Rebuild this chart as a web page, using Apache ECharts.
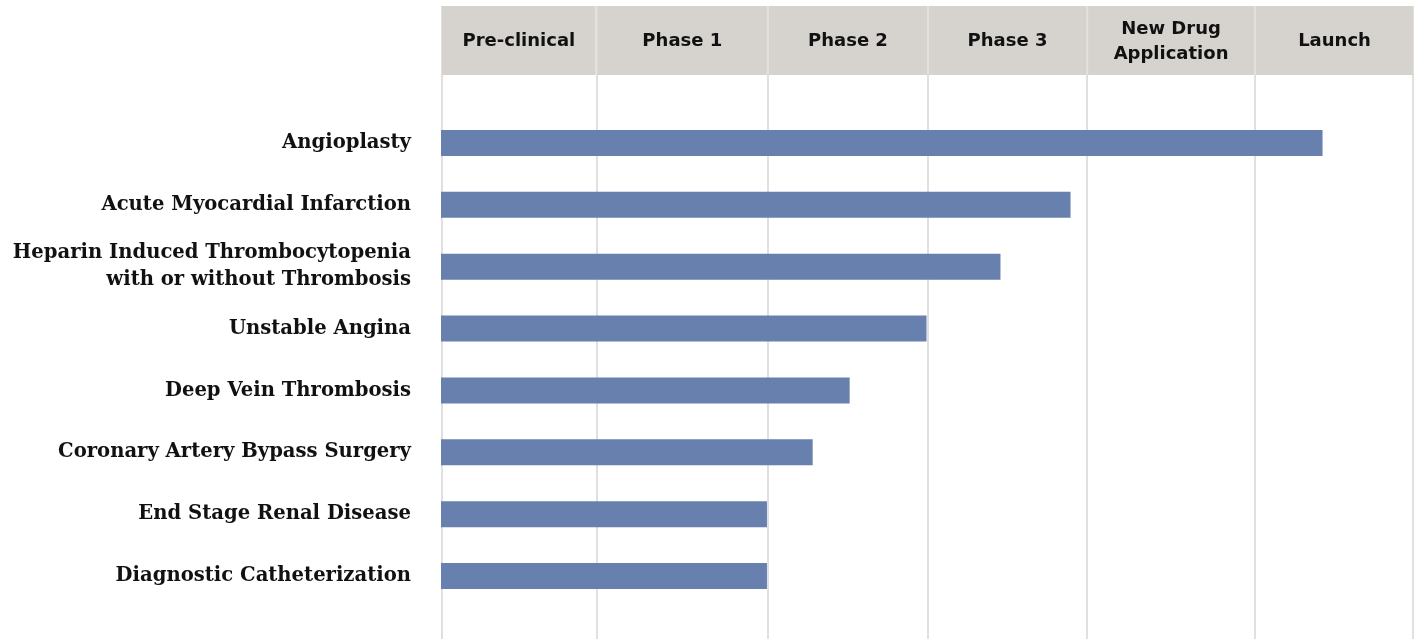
<!DOCTYPE html>
<html>
<head>
<meta charset="utf-8">
<script src="https://cdn.jsdelivr.net/npm/echarts@6/dist/echarts.min.js"></script>
<style>
  html, body { margin: 0; padding: 0; background: #fff; }
  #chart { width: 1414px; height: 639px; }
</style>
</head>
<body>
<div id="chart"></div>
<script>
// pipeline scale runs 0..100; phase columns are not equally wide
const phases = ['Pre-clinical', 'Phase 1', 'Phase 2', 'Phase 3', 'New Drug\nApplication', 'Launch'];
const phaseBounds = [0, 16.0, 33.6, 50.05, 66.4, 83.66, 100];

const categories = [
  'Angioplasty',
  'Acute Myocardial Infarction',
  'Heparin Induced Thrombocytopenia\nwith or without Thrombosis',
  'Unstable Angina',
  'Deep Vein Thrombosis',
  'Coronary Artery Bypass Surgery',
  'End Stage Renal Disease',
  'Diagnostic Catheterization'
];
const progress = [90.6, 64.7, 57.5, 49.9, 42.0, 38.2, 33.5, 33.5];

const chart = echarts.init(document.getElementById('chart'));

// header cells: [start, end, label]
const headerData = phases.map((p, i) => [phaseBounds[i], phaseBounds[i + 1], p]);

chart.setOption({
  animation: false,
  grid: [
    { left: 441, right: 0, top: 6, bottom: 0 },
    { left: 441, right: 0, top: 112, bottom: 32 }
  ],
  xAxis: [
    { gridIndex: 0, type: 'value', min: 0, max: 100, show: false },
    { gridIndex: 1, type: 'value', min: 0, max: 100, show: false }
  ],
  yAxis: [
    { gridIndex: 0, type: 'value', min: 0, max: 1, show: false, inverse: true },
    {
      gridIndex: 1, type: 'category', data: categories, inverse: true,
      axisLine: { show: false }, axisTick: { show: false },
      axisLabel: {
        margin: 30, color: '#111', fontFamily: 'DejaVu Serif',
        fontWeight: 'bold', fontSize: 19.6, lineHeight: 27, align: 'right'
      }
    }
  ],
  series: [
    {
      type: 'custom',
      xAxisIndex: 0, yAxisIndex: 0,
      z: 3,
      data: headerData,
      renderItem: function (params, api) {
        const x0 = api.coord([api.value(0), 0]);
        const x1 = api.coord([api.value(1), 0]);
        const w = x1[0] - x0[0];
        return {
          type: 'group',
          children: [
            { type: 'rect', shape: { x: x0[0] + 1, y: x0[1], width: w - 2, height: 69 },
              style: { fill: '#d6d3ce' } },
            { type: 'text', x: x0[0] + w / 2, y: x0[1] + 35.5,
              style: { text: phases[params.dataIndex], textAlign: 'center', textVerticalAlign: 'middle',
                       fill: '#111', font: 'bold 18px "DejaVu Sans"', lineHeight: 25 } }
          ]
        };
      },
      markLine: {
        silent: true, symbol: 'none', label: { show: false },
        lineStyle: { color: '#e0e0e0', width: 2, type: 'solid' },
        z: 1,
        data: phaseBounds.map(v => ({ xAxis: v === 100 ? 99.9 : (v === 0 ? 0.1 : v) }))
      }
    },
    {
      type: 'bar',
      xAxisIndex: 1, yAxisIndex: 1,
      data: progress,
      barWidth: 26,
      z: 4,
      itemStyle: { color: '#6880ad' }
    }
  ]
});
</script>
</body>
</html>
